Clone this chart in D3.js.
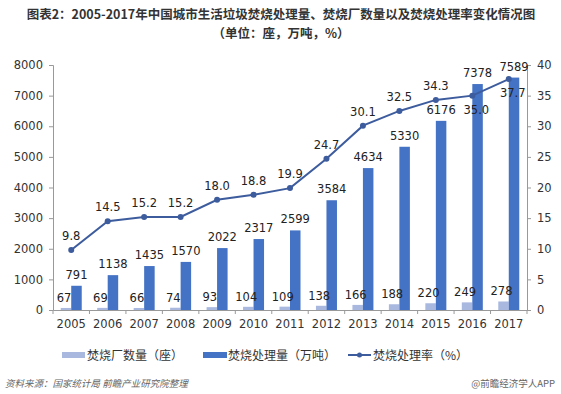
<!DOCTYPE html>
<html>
<head>
<meta charset="utf-8">
<script src="https://cdn.jsdelivr.net/npm/d3@7"></script>
<style>
  body { margin: 0; background: #fff; }
  text { font-family: "Noto Sans CJK SC", "DejaVu Sans", sans-serif; }
</style>
</head>
<body>
<div id="chart"></div>
<script>
const years = ["2005","2006","2007","2008","2009","2010","2011","2012","2013","2014","2015","2016","2017"];
const plants = [67, 69, 66, 74, 93, 104, 109, 138, 166, 188, 220, 249, 278];
const capacity = [791, 1138, 1435, 1570, 2022, 2317, 2599, 3584, 4634, 5330, 6176, 7378, 7589];
const rate = [9.8, 14.5, 15.2, 15.2, 18.0, 18.8, 19.9, 24.7, 30.1, 32.5, 34.3, 35.0, 37.7];
const leftTicks = [0, 1000, 2000, 3000, 4000, 5000, 6000, 7000, 8000];
const rightTicks = [0, 5, 10, 15, 20, 25, 30, 35, 40];
const seriesNames = ["焚烧厂数量（座）", "焚烧处理量（万吨）", "焚烧处理率（%）"];

const width = 561, height = 394;
const margin = { top: 65, right: 34, bottom: 84, left: 53 };
const lightColor = "#a9b8de", darkColor = "#4472c4", lineColor = "#3d5c9e";

const svg = d3.select("#chart").append("svg")
  .attr("width", width)
  .attr("height", height);

// title
svg.append("text")
  .attr("x", 281).attr("y", 19)
  .attr("text-anchor", "middle")
  .attr("font-size", 12.5).attr("font-weight", "bold").attr("fill", "#333")
  .text("图表2：2005-2017年中国城市生活垃圾焚烧处理量、焚烧厂数量以及焚烧处理率变化情况图");
svg.append("text")
  .attr("x", 281).attr("y", 38)
  .attr("text-anchor", "middle")
  .attr("font-size", 12.5).attr("font-weight", "bold").attr("fill", "#333")
  .text("（单位：座，万吨，%）");

const x = d3.scaleBand()
  .domain(years)
  .range([margin.left, width - margin.right]);

const yL = d3.scaleLinear()
  .domain([0, 8000])
  .range([height - margin.bottom, margin.top]);

const yR = d3.scaleLinear()
  .domain([0, 40])
  .range([height - margin.bottom, margin.top]);

const barW = 10.5;
const cx = d => x(d) + x.bandwidth() / 2;

// axes
const axisL = svg.append("g")
  .attr("transform", "translate(" + margin.left + ",0)")
  .call(d3.axisLeft(yL).tickValues(leftTicks).tickFormat(d3.format("d")).tickSize(4).tickPadding(6));
const axisR = svg.append("g")
  .attr("transform", "translate(" + (width - margin.right) + ",0)")
  .call(d3.axisRight(yR).tickValues(rightTicks).tickSize(4).tickPadding(6));
const axisB = svg.append("g")
  .attr("transform", "translate(0," + (height - margin.bottom) + ")")
  .call(d3.axisBottom(x).tickSize(0).tickPadding(10));

// tick marks between categories on x axis
axisB.selectAll(".sep")
  .data(d3.range(years.length + 1))
  .enter()
  .append("line")
  .attr("x1", i => margin.left + i * x.step())
  .attr("x2", i => margin.left + i * x.step())
  .attr("y1", 0).attr("y2", 4)
  .attr("stroke", "#999");

[axisL, axisR, axisB].forEach(a => {
  a.select(".domain").attr("stroke", "#999");
  a.selectAll(".tick line").attr("stroke", "#999");
  a.selectAll("text").attr("font-size", 11.5).attr("fill", "#333")
    .style("font-family", "'DejaVu Sans', sans-serif");
});

// bars
svg.selectAll(".plant")
  .data(years)
  .enter()
  .append("rect")
  .attr("class", "plant")
  .attr("x", d => cx(d) - barW)
  .attr("y", (d, i) => yL(plants[i]))
  .attr("width", barW)
  .attr("height", (d, i) => yL(0) - yL(plants[i]))
  .attr("fill", lightColor);

svg.selectAll(".cap")
  .data(years)
  .enter()
  .append("rect")
  .attr("class", "cap")
  .attr("x", d => cx(d))
  .attr("y", (d, i) => yL(capacity[i]))
  .attr("width", barW)
  .attr("height", (d, i) => yL(0) - yL(capacity[i]))
  .attr("fill", darkColor);

// line
const line = d3.line()
  .x(d => cx(d))
  .y((d, i) => yR(rate[i]));

svg.append("path")
  .datum(years)
  .attr("d", line)
  .attr("fill", "none")
  .attr("stroke", lineColor)
  .attr("stroke-width", 2);

svg.selectAll(".dot")
  .data(years)
  .enter()
  .append("circle")
  .attr("cx", d => cx(d))
  .attr("cy", (d, i) => yR(rate[i]))
  .attr("r", 3)
  .attr("fill", lineColor);

// labels
const lbl = (cls) => svg.selectAll("." + cls).data(years).enter().append("text")
  .attr("class", cls)
  .attr("text-anchor", "middle")
  .attr("font-size", 11.5)
  .attr("fill", "#222")
  .style("font-family", "'DejaVu Sans', sans-serif");

lbl("pl")
  .attr("x", d => cx(d) - barW / 2 - 2)
  .attr("y", (d, i) => yL(plants[i]) - 6)
  .text((d, i) => plants[i]);

lbl("cl")
  .attr("x", d => cx(d) + barW / 2)
  .attr("y", (d, i) => yL(capacity[i]) - 7)
  .text((d, i) => capacity[i]);

lbl("rl")
  .attr("x", (d, i) => cx(d) + (i >= 11 ? 4 : 0))
  .attr("y", (d, i) => yR(rate[i]) + (i >= 11 ? 18 : -10))
  .text((d, i) => rate[i].toFixed(1));

// legend
const legY = 355;
const leg = svg.append("g").attr("font-size", 12).attr("fill", "#333");
leg.append("rect").attr("x", 62).attr("y", legY - 3).attr("width", 23).attr("height", 6).attr("fill", lightColor);
leg.append("text").attr("x", 87).attr("y", legY + 4.5).text(seriesNames[0]);
leg.append("rect").attr("x", 203).attr("y", legY - 3).attr("width", 24).attr("height", 6).attr("fill", darkColor);
leg.append("text").attr("x", 228).attr("y", legY + 4.5).text(seriesNames[1]);
leg.append("line").attr("x1", 348).attr("x2", 371).attr("y1", legY).attr("y2", legY)
  .attr("stroke", lineColor).attr("stroke-width", 2);
leg.append("circle").attr("cx", 359.5).attr("cy", legY).attr("r", 2.5).attr("fill", lineColor);
leg.append("text").attr("x", 373).attr("y", legY + 4.5).text(seriesNames[2]);

// footer
svg.append("text")
  .attr("x", 5).attr("y", 387)
  .attr("font-size", 9.5).attr("fill", "#666").attr("font-style", "italic")
  .text("资料来源：国家统计局 前瞻产业研究院整理");
svg.append("text")
  .attr("x", 555).attr("y", 387)
  .attr("text-anchor", "end")
  .attr("font-size", 9.5).attr("fill", "#666")
  .text("@前瞻经济学人APP");
</script>
</body>
</html>
